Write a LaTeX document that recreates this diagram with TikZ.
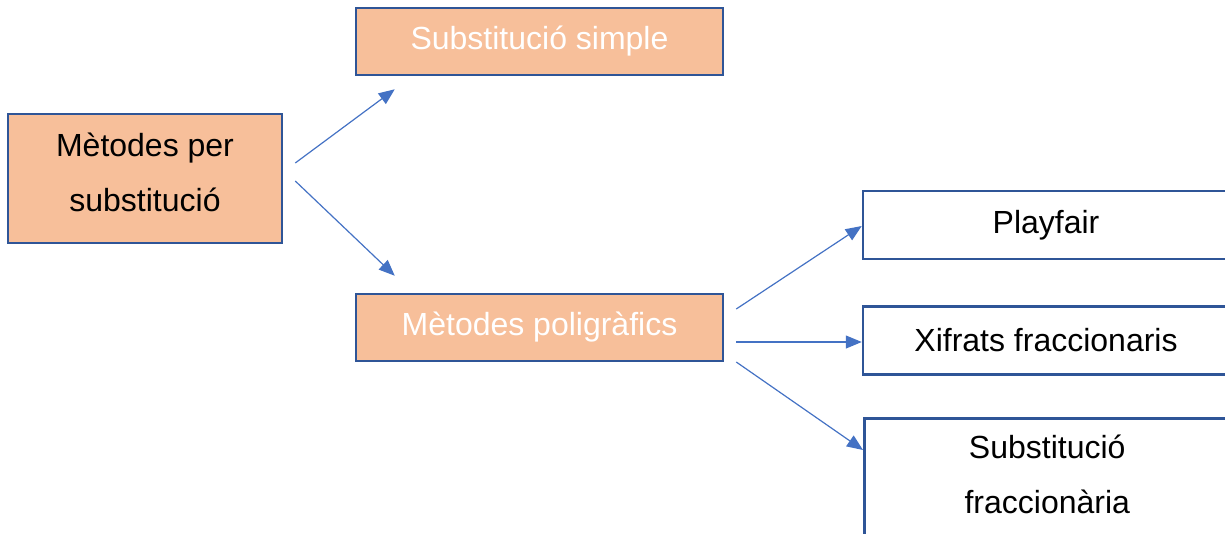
\documentclass[tikz,border=0pt]{standalone}
\usepackage{fontspec}
\setmainfont{Liberation Sans}
\usetikzlibrary{arrows.meta,calc}
\definecolor{peach}{HTML}{F7BF9A}
\definecolor{boxblue}{HTML}{2F5597}
\definecolor{arrowblue}{HTML}{4472C4}
\begin{document}
\begin{tikzpicture}[x=1pt,y=-1pt,
  box/.style={draw=boxblue, line width=2.5pt, rectangle, inner sep=0pt,
    font=\fontsize{32}{55}\selectfont, align=center},
  peachbox/.style={box, fill=peach},
  plainbox/.style={box, fill=white, text=black},
  link/.style={draw=arrowblue, line width=1.2pt,
    -{Triangle[length=16pt,width=13pt]}}]
\useasboundingbox (0,0) rectangle (1225,533);
\clip (0,0) rectangle (1225,533);

% main category
\node[peachbox, minimum width=274pt, minimum height=129pt, text depth=12pt] (A) at (145,178.5)
  {Mètodes per\\substitució};

% second level
\node[peachbox, text=white, minimum width=367pt, minimum height=67pt] (B) at (539.5,41.5)
  {Substitució simple};
\node[peachbox, text=white, minimum width=367pt, minimum height=67pt] (C) at (539.5,327.5)
  {Mètodes poligràfics};

% polygraphic methods
\node[plainbox, minimum width=366pt, minimum height=68pt] (D) at (1046,225) {Playfair};
\node[plainbox, minimum width=366pt, minimum height=68pt] (E) at (1046,340.5) {Xifrats fraccionaris};
\node[plainbox, minimum width=366pt, minimum height=120pt, text depth=8pt, anchor=north west] (F) at (863,417)
  {Substitució\\fraccionària};

% connectors
\draw[link] ($(A.east)+(12,-15.5)$) -- ($(B.south west)+(40,13)$);
\draw[link] ($(A.east)+(12,2.5)$) -- ($(C.north west)+(40,-17)$);
\draw[link] ($(C.east)+(12,-18.5)$) -- ($(D.west)+(0,1)$);
\draw[link] ($(C.east)+(12,14.5)$) -- ($(E.west)+(0,1.5)$);
\draw[link] ($(C.east)+(12,34.5)$) -- ($(F.north west)+(0,33)$);
\end{tikzpicture}
\end{document}
